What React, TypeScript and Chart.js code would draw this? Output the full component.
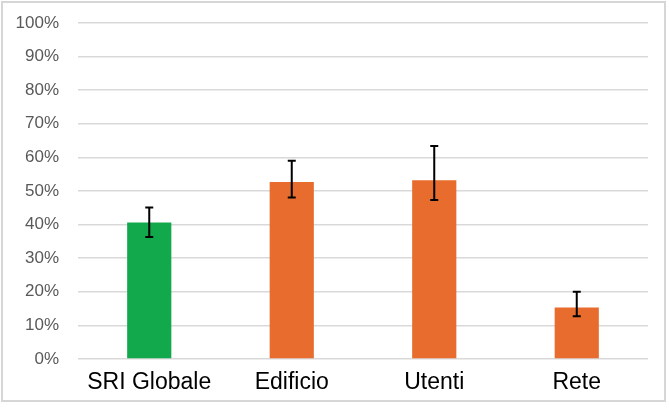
import React, { useEffect, useRef } from "react";
import { Chart, registerables } from "chart.js";

Chart.register(...registerables);

const categories = ["SRI Globale", "Edificio", "Utenti", "Rete"];
const values = [40.6, 52.7, 53.2, 15.3];
const errLow = [36.3, 48.1, 47.3, 12.7];
const errHigh = [45.1, 59.0, 63.4, 20.0];
const barColors = ["#12A94C", "#E76C2D", "#E76C2D", "#E76C2D"];
const yTicks = [0, 10, 20, 30, 40, 50, 60, 70, 80, 90, 100];

const errorBarPlugin = {
  id: "errorBars",
  afterDatasetsDraw(chart: any) {
    const ctx = chart.ctx;
    const meta = chart.getDatasetMeta(0);
    const y = chart.scales.y;
    ctx.save();
    ctx.strokeStyle = "#000000";
    ctx.lineWidth = 2;
    meta.data.forEach((bar: any, i: number) => {
      const x = bar.x;
      const yl = y.getPixelForValue(errLow[i]);
      const yh = y.getPixelForValue(errHigh[i]);
      const cap = 4;
      ctx.beginPath();
      ctx.moveTo(x, yl);
      ctx.lineTo(x, yh);
      ctx.moveTo(x - cap, yl);
      ctx.lineTo(x + cap, yl);
      ctx.moveTo(x - cap, yh);
      ctx.lineTo(x + cap, yh);
      ctx.stroke();
    });
    ctx.restore();
  },
};

export default function App() {
  const ref = useRef<HTMLCanvasElement>(null);
  useEffect(() => {
    if (!ref.current) return;
    const chart = new Chart(ref.current, {
      type: "bar",
      data: {
        labels: categories,
        datasets: [
          {
            data: values,
            backgroundColor: barColors,
            borderWidth: 0,
            barPercentage: 0.31,
            categoryPercentage: 1,
          },
        ],
      },
      options: {
        animation: false,
        responsive: false,
        maintainAspectRatio: false,
        layout: { padding: { left: 0, right: 21, top: 23, bottom: 0 } },
        plugins: { legend: { display: false }, tooltip: { enabled: false } },
        scales: {
          x: {
            grid: { display: false, drawTicks: false },
            border: { display: false },
            ticks: {
              color: "#000000",
              padding: 10,
              font: { family: "'Liberation Sans', Arial, sans-serif", size: 23 },
              maxRotation: 0,
              autoSkip: false,
            },
            afterFit: (s: any) => {
              s.height = 50;
            },
          },
          y: {
            min: 0,
            max: 100,
            afterBuildTicks: (s: any) => {
              s.ticks = yTicks.map((v) => ({ value: v }));
            },
            grid: { color: "#D9D9D9", lineWidth: 1.5, drawTicks: false },
            border: { display: false },
            ticks: {
              color: "#595959",
              padding: 19,
              font: { family: "'Liberation Sans', Arial, sans-serif", size: 17 },
              callback: (v: any) => v + "%",
            },
            afterFit: (s: any) => {
              s.width = 78;
              s.paddingTop = 0;
            },
          },
        },
      },
      plugins: [errorBarPlugin],
    });
    return () => chart.destroy();
  }, []);
  return (
    <div style={{ position: "fixed", left: 0, top: 0, width: 669, height: 409, background: "#ffffff" }}>
      <canvas ref={ref} width={669} height={409} style={{ position: "absolute", left: 0, top: 0 }} />
      <div
        style={{
          position: "absolute",
          left: 1,
          top: 1,
          width: 661,
          height: 397,
          border: "2px solid #D6D6D6",
          pointerEvents: "none",
        }}
      />
    </div>
  );
}
